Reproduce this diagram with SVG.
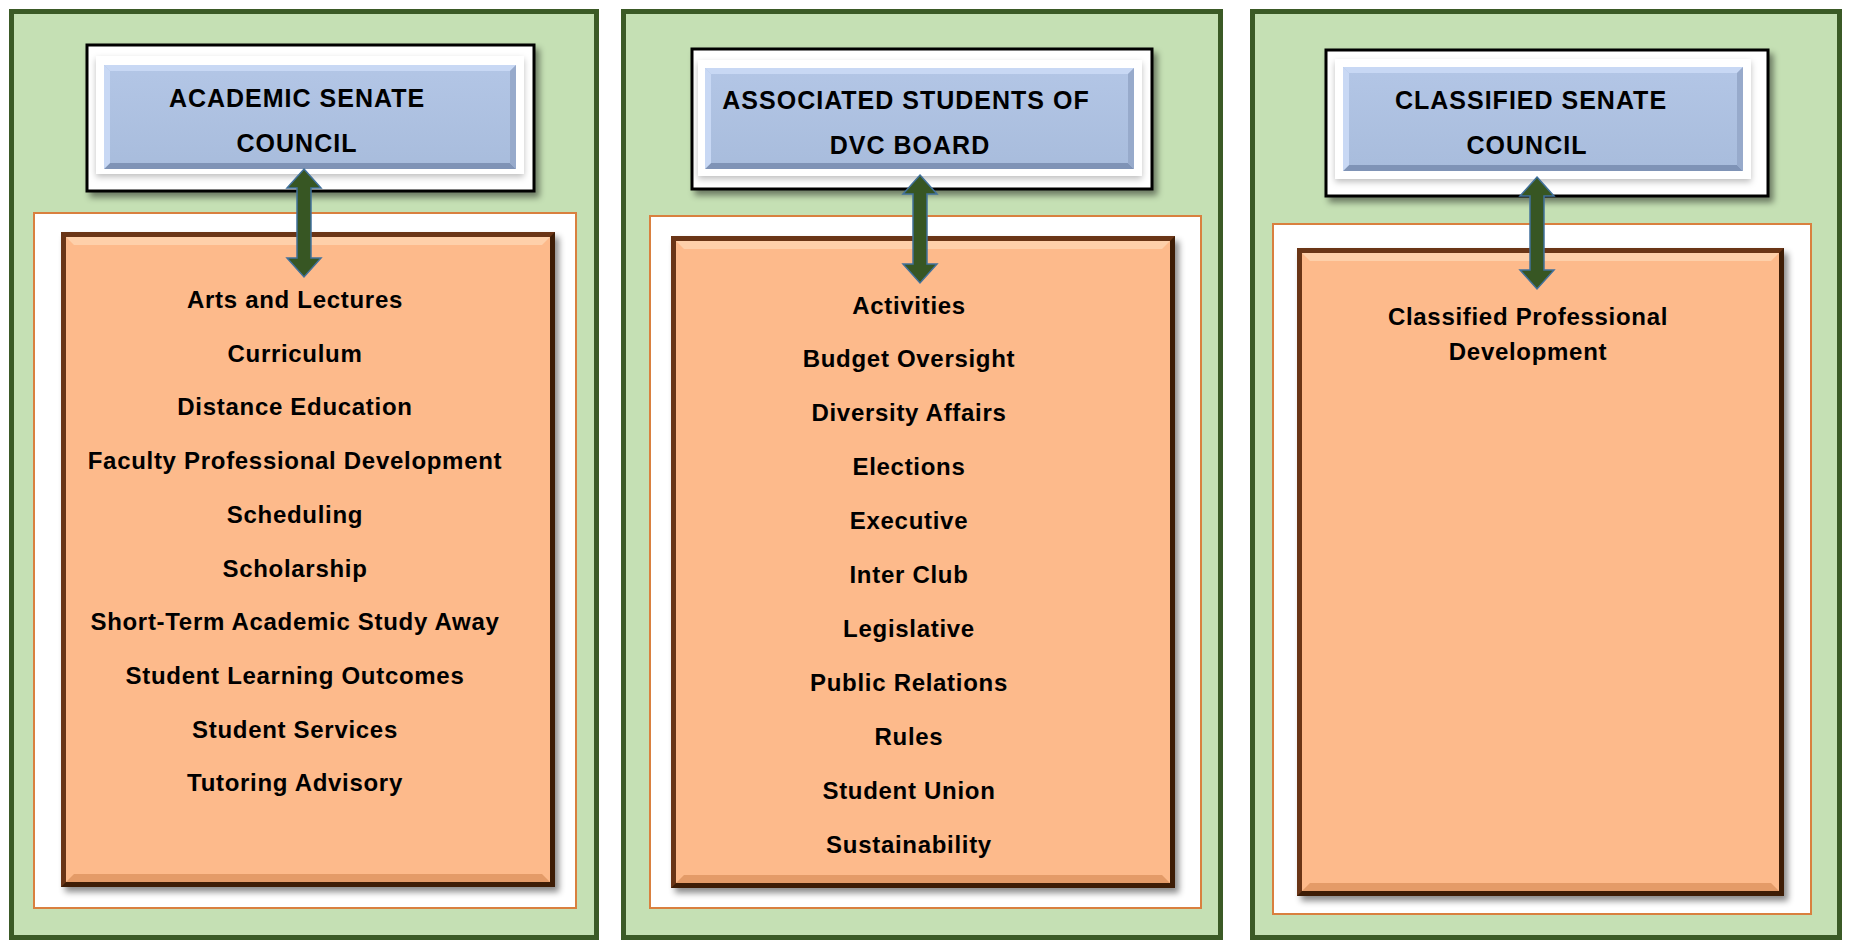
<svg xmlns="http://www.w3.org/2000/svg" width="1849" height="943" viewBox="0 0 1849 943">
<defs>
<filter id="sh" x="-10%" y="-10%" width="130%" height="130%"><feDropShadow dx="4" dy="5" stdDeviation="3" flood-color="#000" flood-opacity="0.45"/></filter>
<filter id="glow" x="-10%" y="-20%" width="120%" height="150%"><feDropShadow dx="0" dy="3" stdDeviation="3" flood-color="#000" flood-opacity="0.25"/></filter>
<linearGradient id="blue" x1="0" y1="0" x2="0" y2="1"><stop offset="0" stop-color="#b3c6e6"/><stop offset="1" stop-color="#a8bcdc"/></linearGradient>
</defs>
<style>
.panel{fill:#c5e0b4;stroke:#3b5a26;stroke-width:5}
.hdr{fill:#fff;stroke:#000;stroke-width:3}
.blue{fill:url(#blue)}
.bt{fill:#c8d8f4}
.bb{fill:#7f93b6}
.bs{fill:#97aacb}
.wbox{fill:#fff;stroke:#d9803f;stroke-width:2}
.obr{fill:#6a3612}
.obrd{fill:#3e1d06}
.ofill{fill:#fdba8b}
.olt{fill:#fed0aa}
.odk{fill:#e49b68}
.arrow{fill:#375623;stroke:#41719c;stroke-width:1.5}
.ht{font-family:"Liberation Sans",Arial,sans-serif;font-weight:bold;font-size:25px;letter-spacing:1px;fill:#000;text-anchor:middle}
.it{font-family:"Liberation Sans",Arial,sans-serif;font-weight:bold;font-size:24px;letter-spacing:0.7px;fill:#000;text-anchor:middle}
</style>

<g id="panel-academic">
<rect class="panel" x="11.5" y="11.5" width="585" height="926"/>
<g id="hdr-academic">
<rect class="hdr" x="87" y="45" width="447" height="146" filter="url(#sh)"/>
<rect fill="#fff" x="96" y="56" width="428" height="118" filter="url(#glow)"/>
<rect class="blue" x="104" y="65" width="412" height="104"/>
<polygon class="bt" points="104,65 516,65 510,71 110,71"/>
<polygon class="bb" points="104,169 516,169 510,163 110,163"/>
<polygon class="bs" points="510,71 516,65 516,169 510,163"/>
<polygon class="bt" points="104,65 110,71 110,163 104,169"/>
<text class="ht" x="297" y="107">ACADEMIC SENATE</text>
<text class="ht" x="297" y="152">COUNCIL</text>
</g>
<rect class="wbox" x="34" y="213" width="542" height="695"/>
<g id="list-academic">
<rect class="obr" x="61" y="232" width="494" height="655" filter="url(#sh)"/>
<polygon class="obrd" points="555,232 555,887 61,887 66,882 550,882 550,237"/>
<rect class="ofill" x="66" y="237" width="484" height="645"/>
<polygon class="olt" points="66,237 550,237 542,245 74,245"/>
<polygon class="odk" points="66,882 550,882 542,874 74,874"/>
<text class="it" x="295" y="308">Arts and Lectures</text>
<text class="it" x="295" y="361.7">Curriculum</text>
<text class="it" x="295" y="415.4">Distance Education</text>
<text class="it" x="295" y="469.1">Faculty Professional Development</text>
<text class="it" x="295" y="522.8">Scheduling</text>
<text class="it" x="295" y="576.5">Scholarship</text>
<text class="it" x="295" y="630.2">Short-Term Academic Study Away</text>
<text class="it" x="295" y="683.9">Student Learning Outcomes</text>
<text class="it" x="295" y="737.6">Student Services</text>
<text class="it" x="295" y="791.3">Tutoring Advisory</text>
</g>
</g>

<g id="panel-asdvc">
<rect class="panel" x="623.5" y="11.5" width="597" height="926"/>
<g id="hdr-asdvc">
<rect class="hdr" x="692" y="49" width="460" height="140" filter="url(#sh)"/>
<rect fill="#fff" x="698" y="60" width="444" height="116" filter="url(#glow)"/>
<rect class="blue" x="705" y="68" width="429" height="101"/>
<polygon class="bt" points="705,68 1134,68 1128,74 711,74"/>
<polygon class="bb" points="705,169 1134,169 1128,163 711,163"/>
<polygon class="bs" points="1128,74 1134,68 1134,169 1128,163"/>
<polygon class="bt" points="705,68 711,74 711,163 705,169"/>
<text class="ht" x="906" y="108.5">ASSOCIATED STUDENTS OF</text>
<text class="ht" x="910" y="154">DVC BOARD</text>
</g>
<rect class="wbox" x="650" y="216" width="551" height="692"/>
<g id="list-asdvc">
<rect class="obr" x="671" y="236" width="504" height="652" filter="url(#sh)"/>
<polygon class="obrd" points="1175,236 1175,888 671,888 676,883 1170,883 1170,241"/>
<rect class="ofill" x="676" y="241" width="494" height="642"/>
<polygon class="olt" points="676,241 1170,241 1162,249 684,249"/>
<polygon class="odk" points="676,883 1170,883 1162,875 684,875"/>
<text class="it" x="909" y="313.5">Activities</text>
<text class="it" x="909" y="367.4">Budget Oversight</text>
<text class="it" x="909" y="421.3">Diversity Affairs</text>
<text class="it" x="909" y="475.2">Elections</text>
<text class="it" x="909" y="529.1">Executive</text>
<text class="it" x="909" y="583">Inter Club</text>
<text class="it" x="909" y="636.9">Legislative</text>
<text class="it" x="909" y="690.8">Public Relations</text>
<text class="it" x="909" y="744.7">Rules</text>
<text class="it" x="909" y="798.6">Student Union</text>
<text class="it" x="909" y="852.5">Sustainability</text>
</g>
</g>

<g id="panel-classified">
<rect class="panel" x="1252.5" y="11.5" width="587" height="926"/>
<g id="hdr-classified">
<rect class="hdr" x="1326" y="50" width="442" height="146" filter="url(#sh)"/>
<rect fill="#fff" x="1335" y="59" width="416" height="120" filter="url(#glow)"/>
<rect class="blue" x="1343" y="67" width="400" height="104"/>
<polygon class="bt" points="1343,67 1743,67 1737,73 1349,73"/>
<polygon class="bb" points="1343,171 1743,171 1737,165 1349,165"/>
<polygon class="bs" points="1737,73 1743,67 1743,171 1737,165"/>
<polygon class="bt" points="1343,67 1349,73 1349,165 1343,171"/>
<text class="ht" x="1531" y="108.5">CLASSIFIED SENATE</text>
<text class="ht" x="1527" y="154">COUNCIL</text>
</g>
<rect class="wbox" x="1273" y="224" width="538" height="690"/>
<g id="list-classified">
<rect class="obr" x="1297" y="248" width="487" height="648" filter="url(#sh)"/>
<polygon class="obrd" points="1784,248 1784,896 1297,896 1302,891 1779,891 1779,253"/>
<rect class="ofill" x="1302" y="253" width="477" height="638"/>
<polygon class="olt" points="1302,253 1779,253 1771,261 1310,261"/>
<polygon class="odk" points="1302,891 1779,891 1771,883 1310,883"/>
<text class="it" x="1528" y="324.5">Classified Professional</text>
<text class="it" x="1528" y="360">Development</text>
</g>
</g>

<g id="connectors">
<polygon class="arrow" points="304,169 321,188 311,188 311,258 321,258 304,277 287,258 297,258 297,188 287,188"/>
<polygon class="arrow" points="920,175 937,194 927,194 927,264 937,264 920,283 903,264 913,264 913,194 903,194"/>
<polygon class="arrow" points="1537,177 1554,196 1544,196 1544,270 1554,270 1537,289 1520,270 1530,270 1530,196 1520,196"/>
</g>
</svg>
